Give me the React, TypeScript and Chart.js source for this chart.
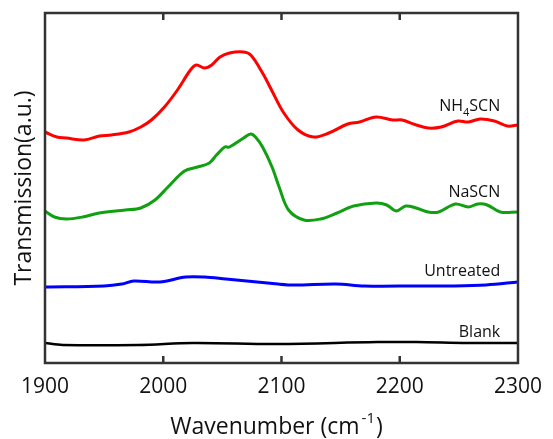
import React, { useEffect, useRef } from "react";
import { Chart, registerables } from "chart.js";
Chart.register(...registerables);

const FONT = "'Open Sans', sans-serif";

const xTickValues = [1900, 2000, 2100, 2200, 2300];

const redX = [1900, 1910, 1918, 1933, 1946, 1956, 1971, 1981, 1990, 2001, 2012, 2023, 2028, 2035, 2041, 2048, 2056, 2068, 2074, 2084, 2092, 2102, 2114, 2127, 2140, 2156, 2166, 2180, 2194, 2202, 2214, 2224, 2235, 2249, 2258, 2268, 2280, 2291, 2300];
const redY = [231, 226, 225, 223, 227, 228, 231, 236, 243, 256, 273, 293, 298, 295, 298, 306, 310, 311, 308, 290, 272, 250, 233, 226, 230, 239, 241, 246, 243, 243, 238, 235, 236, 242, 241, 244, 242, 237, 238];

const greenX = [1900, 1908, 1918, 1932, 1946, 1968, 1981, 1993, 2004, 2018, 2029, 2039, 2045, 2052, 2056, 2068, 2074, 2078, 2084, 2092, 2098, 2106, 2119, 2133, 2147, 2161, 2180, 2189, 2197, 2205, 2214, 2224, 2233, 2247, 2258, 2266, 2274, 2285, 2300];
const greenY = [152, 146, 144, 146, 150, 153, 155, 163, 176, 192, 196, 200, 208, 216, 216, 225, 229, 226, 216, 196, 176, 153, 143, 144, 150, 157, 160, 158, 152, 157, 155, 151, 151, 159, 156, 159, 158, 151, 151];

const blueX = [1900, 1950, 1965, 1975, 1997, 2019, 2035, 2053, 2097, 2111, 2146, 2170, 2214, 2243, 2273, 2300];
const blueY = [76, 77, 79, 82, 81, 86, 86, 84, 79, 78, 79, 77, 77, 77, 78, 81];

const blackX = [1900, 1915, 1979, 2025, 2097, 2181, 2214, 2258, 2300];
const blackY = [20, 18, 18, 20, 19, 21, 21, 20, 20];

const seriesNames = ["NH4SCN", "NaSCN", "Untreated", "Blank"];
const seriesColors = ["#ff0000", "#11a011", "#0000ff", "#000000"];

const toPts = (xs: number[], ys: number[]) => xs.map((x, i) => ({ x, y: ys[i] }));

// label anchors in data coordinates (right edge x, vertical centre y)
const labelAnchors = [
  { x: 2285, y: 257 },
  { x: 2285, y: 171 },
  { x: 2285, y: 92 },
  { x: 2285, y: 31 },
];

const framePlugin = {
  id: "frame",
  afterDraw(chart: any) {
    const { ctx, chartArea } = chart;
    const { left, right, top, bottom } = chartArea;
    const xs = chart.scales.x;
    const ys = chart.scales.y;
    ctx.save();
    ctx.strokeStyle = "#333333";
    ctx.lineWidth = 2.5;
    ctx.strokeRect(left, top, right - left, bottom - top);
    ctx.beginPath();
    xs.ticks.forEach((t: any) => {
      const px = xs.getPixelForValue(t.value);
      if (Math.abs(px - left) < 2 || Math.abs(px - right) < 2) return;
      ctx.moveTo(px, bottom);
      ctx.lineTo(px, bottom - 7);
      ctx.moveTo(px, top);
      ctx.lineTo(px, top + 7);
    });
    ctx.stroke();

    // series labels
    ctx.fillStyle = "#111111";
    ctx.textBaseline = "middle";
    seriesNames.forEach((name, i) => {
      const a = labelAnchors[i];
      const rx = xs.getPixelForValue(a.x);
      const cy = ys.getPixelForValue(a.y);
      if (name === "NH4SCN") {
        const p1 = "NH";
        const p3 = "SCN";
        ctx.font = `16px ${FONT}`;
        const w1 = ctx.measureText(p1).width;
        const w3 = ctx.measureText(p3).width;
        ctx.font = `11px ${FONT}`;
        const w2 = ctx.measureText("4").width;
        let x = rx - (w1 + w2 + w3);
        ctx.textAlign = "left";
        ctx.font = `16px ${FONT}`;
        ctx.fillText(p1, x, cy);
        x += w1;
        ctx.font = `11px ${FONT}`;
        ctx.fillText("4", x, cy + 7);
        x += w2;
        ctx.font = `16px ${FONT}`;
        ctx.fillText(p3, x, cy);
      } else {
        ctx.font = `16px ${FONT}`;
        ctx.textAlign = "right";
        ctx.fillText(name, rx, cy);
      }
    });

    // x axis title with superscript
    const t1 = "Wavenumber (cm";
    const t2 = "-1";
    const t3 = ")";
    ctx.font = `23px ${FONT}`;
    const w1 = ctx.measureText(t1).width;
    const w3 = ctx.measureText(t3).width;
    ctx.font = `15px ${FONT}`;
    const w2 = ctx.measureText(t2).width;
    const cx = (left + right) / 2 - 5;
    let x = cx - (w1 + w2 + w3 + 3) / 2;
    const base = 434;
    ctx.textAlign = "left";
    ctx.textBaseline = "alphabetic";
    ctx.fillStyle = "#111111";
    ctx.font = `23px ${FONT}`;
    ctx.fillText(t1, x, base);
    x += w1 + 2;
    ctx.font = `15px ${FONT}`;
    ctx.fillText(t2, x, base - 11);
    x += w2 + 1;
    ctx.font = `23px ${FONT}`;
    ctx.fillText(t3, x, base);
    ctx.restore();
  },
};

export default function App() {
  const ref = useRef<HTMLCanvasElement | null>(null);
  useEffect(() => {
    if (!ref.current) return;
    const mk = (i: number, xs: number[], ys: number[], w: number) => ({
      label: seriesNames[i],
      data: toPts(xs, ys),
      borderColor: seriesColors[i],
      backgroundColor: seriesColors[i],
      borderWidth: w,
      pointRadius: 0,
      tension: 0.35,
      fill: false,
    });
    const chart = new Chart(ref.current, {
      type: "line",
      data: {
        datasets: [
          mk(0, redX, redY, 3),
          mk(1, greenX, greenY, 3),
          mk(2, blueX, blueY, 3),
          mk(3, blackX, blackY, 2.5),
        ],
      },
      options: {
        responsive: false,
        animation: false,
        layout: { padding: { top: 13, right: 26, left: 0, bottom: 0 } },
        plugins: { legend: { display: false }, tooltip: { enabled: false } },
        scales: {
          x: {
            type: "linear",
            min: 1900,
            max: 2300,
            afterBuildTicks: (s: any) => {
              s.ticks = xTickValues.map((v) => ({ value: v }));
            },
            ticks: {
              color: "#111111",
              font: { family: FONT, size: 21 },
              padding: 11,
              maxRotation: 0,
              autoSkip: false,
              callback: (v: any) => String(v),
            },
            grid: { display: false, drawTicks: false },
            border: { display: false },
            afterFit: (s: any) => {
              s.height = 76;
            },
          },
          y: {
            min: 0,
            max: 350,
            ticks: { display: false },
            grid: { display: false, drawTicks: false },
            border: { display: false },
            title: {
              display: true,
              text: "Transmission(a.u.)",
              color: "#111111",
              font: { family: FONT, size: 23 },
              padding: { top: 11, bottom: 0 },
            },
            afterFit: (s: any) => {
              s.width = 45;
            },
          },
        },
      },
      plugins: [framePlugin],
    });
    return () => chart.destroy();
  }, []);
  return (
    <div style={{ position: "fixed", left: 0, top: 0, width: 553, height: 439, background: "#fff" }}>
      <canvas ref={ref} width={553} height={439} />
    </div>
  );
}
